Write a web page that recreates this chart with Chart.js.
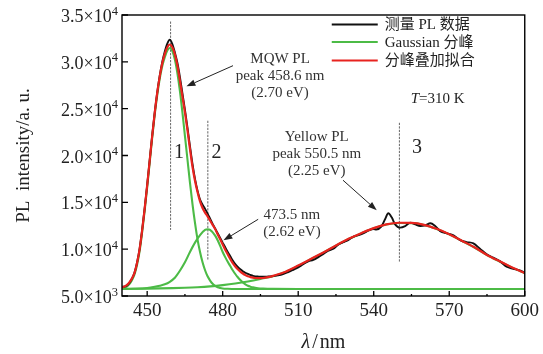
<!DOCTYPE html>
<html>
<head>
<meta charset="utf-8">
<script src="https://cdn.jsdelivr.net/npm/chart.js@4/dist/chart.umd.min.js"></script>
<style>
html,body{margin:0;padding:0;background:#fff;}
#wrap{width:543px;height:354px;position:relative;}
</style>
</head>
<body>
<div id="wrap"><canvas id="c" width="543" height="354"></canvas></div>
<script>
// ---------- data ----------
const fitNm = [440,441,442,443,444,445,446,447,448,449,450,451,452,453,454,455,456,457,458,459,
  460,461,462,463,464,465,466,467,468,469,470,471,472,473,474,475,476,477,478,479,
  480,481,482,483,484,485,486,487,488,489,490,491,492,493,494,495,496,497,498,499,500,
  505,510,515,520,525,530,535,540,545,550,555,560,565,570,575,580,585,590,595,600];
const fitValues = [5930,6020,6180,6480,6900,7500,8550,10000,12000,14300,16800,19450,22100,24550,26700,28450,29850,30850,31550,31850,
  31550,30800,29600,28000,26300,24600,22700,20700,18800,17300,16100,15100,14400,13900,13500,13050,12600,12150,11600,11050,
  10500,9950,9450,8950,8500,8150,7850,7600,7400,7230,7100,7020,6960,6920,6900,6900,6920,6960,7010,7070,7150,
  7600,8250,8950,9650,10400,11100,11700,12250,12650,12820,12800,12600,12170,11600,10900,10200,9380,8700,8050,7450];

const measuredNm = [440,441,442,443,444,445,446,447,448,449,450,451,452,453,454,455,456,457,458,459,
  460,461,462,463,464,465,466,467,468,469,470,471,472,473,474,475,476,477,478,479,
  480,481,482,483,484,485,486,487,488,489,490,491,492,493,494,495,496,497,498,499,500,
  502,504,506,508,510,512,514,516,518,520,522,524,526,528,530,532,534,536,538,540,
  541,543,544.5,545.8,547.2,548.5,550.5,552.5,554.5,556.5,558.5,560.5,562.5,564.4,566.4,569.1,571.7,
  574.3,576.9,579.6,582.2,584.9,587.5,590.1,592.8,595.4,598,600];
const measuredValues = [5980,6000,6120,6420,6880,7520,8600,10050,12050,14350,16850,19500,22150,24600,26750,28550,30000,31100,31950,32350,
  31900,31000,29900,28400,26650,24900,23000,21000,19100,17500,16250,15300,14750,14300,13800,13250,12700,12200,11700,11200,
  10700,10200,9700,9250,8800,8400,8100,7850,7650,7480,7350,7250,7150,7100,7080,7060,7050,7060,7080,7100,7130,
  7200,7330,7550,7800,8060,8400,8700,8850,9150,9500,9850,10050,10500,10750,11000,11350,11500,11700,12000,12150,
  12100,12400,13190,13830,13370,12650,12300,12470,12830,12650,12470,12540,12760,12470,11930,11690,11470,
  10970,10760,10620,10050,9440,9090,8720,8120,7910,7730,7480];

const gauss1Nm = [440,441,442,443,444,445,446,447,448,449,450,451,452,453,454,455,456,457,458,459,
  460,461,462,463,464,465,466,467,468,469,470,471,472,473,474,475,476,477,478,479,480,482,485,500,600];
const gauss1Values = [5800,5880,6020,6300,6720,7320,8350,9800,11800,14100,16600,19250,21900,24350,26450,28200,29550,30500,31200,31480,
  31150,30250,28800,26900,24600,22100,19600,17100,14800,12800,11050,9700,8600,7750,7100,6650,6300,6080,5930,5850,5800,5770,5750,5750,5750];

const gauss2Nm = [440,445,450,453,455,457,459,461,463,465,467,469,471,473,474,475,477,478,479,480,
  481,482,483,484,485,486,487,488,489,490,491,492,494,496,500,510,600];
const gauss2Values = [5750,5770,5850,5980,6100,6250,6520,6950,7700,8600,9700,10700,11500,12050,12120,12050,11450,10950,10350,9700,
  9150,8650,8200,7750,7350,7000,6700,6450,6250,6100,6000,5920,5830,5790,5760,5750,5750];

const gauss3Nm = [440,450,460,465,470,475,480,485,490,495,500,505,510,515,520,525,530,535,540,545,
  550,555,560,565,570,575,580,585,590,595,600];
const gauss3Values = [5760,5790,5840,5880,5940,6030,6160,6330,6550,6820,7120,7560,8200,8920,9630,10380,11080,11680,12230,12630,
  12800,12780,12580,12150,11580,10880,10180,9360,8680,8030,7430];

// peak markers (dotted lines): wavelength and vertical extent (a. u.)
const markerNm = [459.3, 474.1, 550.2];
const markerTop = [34260, 23670, 23450];
const markerBottom = [12100, 8870, 8620];
const markerLabels = ['1', '2', '3'];

const xTickValues = [450, 480, 510, 540, 570, 600];
const xMinorValues = [465, 495, 525, 555, 585];
const yTickValues = [5000, 10000, 15000, 20000, 25000, 30000, 35000];
const yTickMantissa = ['5.0', '1.0', '1.5', '2.0', '2.5', '3.0', '3.5'];
const yTickExponent = ['3', '4', '4', '4', '4', '4', '4'];

const seriesNames = ['测量 PL 数据', 'Gaussian 分峰', '分峰叠加拟合'];

// ---------- helpers ----------
const pts = (xs, ys) => xs.map((v, i) => ({x: v, y: ys[i]}));
const SERIF = "'Liberation Serif','Noto Sans CJK SC',serif";
const BLACK = '#111111', GREEN = '#4cbb46', RED = '#e8231f';

const lineDs = (label, xs, ys, color, order, width) => ({
  label, data: pts(xs, ys), borderColor: color, backgroundColor: color,
  borderWidth: width, pointRadius: 0, fill: false, cubicInterpolationMode: 'monotone', order
});

const datasets = [
  lineDs(seriesNames[2], fitNm, fitValues, RED, 0, 2.2),
  lineDs(seriesNames[0], measuredNm, measuredValues, BLACK, 1, 1.9),
  lineDs(seriesNames[1], gauss1Nm, gauss1Values, GREEN, 2, 2.1),
  lineDs(seriesNames[1], gauss2Nm, gauss2Values, GREEN, 2, 2.1),
  lineDs(seriesNames[1], gauss3Nm, gauss3Values, GREEN, 2, 2.1),
];
markerNm.forEach((m, i) => datasets.push({
  label: 'peak ' + markerLabels[i],
  data: [{x: m, y: markerTop[i]}, {x: m, y: markerBottom[i]}],
  borderColor: '#666', borderWidth: 1, borderDash: [1.5, 2], pointRadius: 0, order: 3, tension: 0
}));

// annotations positioned in data coordinates (nm, a. u.)
const notes = [
  {lines: ['MQW PL', 'peak 458.6 nm', '(2.70 eV)'], at: [502.8, 30250]},
  {lines: ['Yellow PL', 'peak 550.5 nm', '(2.25 eV)'], at: [517.4, 21930]},
  {lines: ['473.5 nm', '(2.62 eV)'], at: [507.5, 13610]},
];
const arrows = [
  {from: [484.1, 29590], to: [465.6, 27380]},
  {from: [527.8, 17360], to: [541.2, 14150]},
  {from: [494.1, 13190], to: [480.3, 10940]},
];
const markerTextPos = [[462.6, 20320], [477.5, 20320], [557.2, 20860]];
const tempPos = [565.4, 26030];

function drawArrow(ctx, x1, y1, x2, y2) {
  const ang = Math.atan2(y2 - y1, x2 - x1);
  const L = 9, W = 3.2;
  const bx = x2 - L * Math.cos(ang), by = y2 - L * Math.sin(ang);
  ctx.beginPath(); ctx.moveTo(x1, y1); ctx.lineTo(bx, by); ctx.stroke();
  ctx.beginPath(); ctx.moveTo(x2, y2);
  ctx.lineTo(bx + W * Math.sin(ang), by - W * Math.cos(ang));
  ctx.lineTo(bx - W * Math.sin(ang), by + W * Math.cos(ang));
  ctx.closePath(); ctx.fill();
}
function drawRuns(ctx, runs, cx, cy, size) {
  let total = 0;
  runs.forEach(r => { ctx.font = (r.italic ? 'italic ' : '') + size + 'px ' + SERIF; r.w = ctx.measureText(r.t).width + (r.gap || 0); total += r.w; });
  let x = cx - total / 2;
  ctx.textAlign = 'left'; ctx.textBaseline = 'middle';
  runs.forEach(r => { ctx.font = (r.italic ? 'italic ' : '') + size + 'px ' + SERIF; ctx.fillText(r.t, x, cy); x += r.w; });
}

const overlay = {
  id: 'overlay',
  afterDraw(chart) {
    const {ctx, chartArea: a, scales: {x, y}} = chart;
    ctx.save();
    // frame
    ctx.strokeStyle = '#000'; ctx.lineWidth = 1.4;
    ctx.strokeRect(a.left, a.top, a.right - a.left, a.bottom - a.top);
    // inward ticks
    ctx.lineWidth = 1.3;
    ctx.beginPath();
    yTickValues.forEach(v => { const py = y.getPixelForValue(v); ctx.moveTo(a.left, py); ctx.lineTo(a.left + 6, py); });
    xTickValues.forEach(v => { const px = x.getPixelForValue(v); ctx.moveTo(px, a.bottom); ctx.lineTo(px, a.bottom - 5); });
    xMinorValues.forEach(v => { const px = x.getPixelForValue(v); ctx.moveTo(px, a.bottom); ctx.lineTo(px, a.bottom - 2); });
    ctx.stroke();

    // y tick labels with superscript exponents
    ctx.fillStyle = '#222'; ctx.textBaseline = 'alphabetic'; ctx.textAlign = 'left';
    yTickValues.forEach((v, i) => {
      const py = y.getPixelForValue(v);
      const main = yTickMantissa[i] + '×10', ex = yTickExponent[i];
      ctx.font = '18px ' + SERIF; const wm = ctx.measureText(main).width;
      ctx.font = '12.5px ' + SERIF; const we = ctx.measureText(ex).width;
      const x0 = a.left - 4 - wm - we;
      ctx.font = '18px ' + SERIF; ctx.fillText(main, x0, py + 7);
      ctx.font = '12.5px ' + SERIF; ctx.fillText(ex, x0 + wm, py - 0.5);
    });

    // legend
    const lx0 = a.right - 193, lx1 = a.right - 147, tx = a.right - 140;
    const ly = [a.top + 9.5, a.top + 27, a.top + 45.5];
    const lc = [BLACK, GREEN, RED];
    ctx.lineWidth = 2;
    ly.forEach((yy, i) => {
      ctx.strokeStyle = lc[i];
      ctx.beginPath(); ctx.moveTo(lx0, yy); ctx.lineTo(lx1, yy); ctx.stroke();
      ctx.fillStyle = '#222'; ctx.font = '15px ' + SERIF; ctx.textAlign = 'left'; ctx.textBaseline = 'middle';
      ctx.fillText(seriesNames[i], tx, yy + 1);
    });

    // notes
    ctx.fillStyle = '#333'; ctx.textAlign = 'center'; ctx.textBaseline = 'middle';
    ctx.font = '15px ' + SERIF;
    notes.forEach(n => {
      const cx = x.getPixelForValue(n.at[0]), cy = y.getPixelForValue(n.at[1]);
      n.lines.forEach((t, i) => ctx.fillText(t, cx, cy + i * 16.7));
    });
    // arrows
    ctx.strokeStyle = '#222'; ctx.fillStyle = '#222'; ctx.lineWidth = 1;
    arrows.forEach(r => drawArrow(ctx, x.getPixelForValue(r.from[0]), y.getPixelForValue(r.from[1]),
      x.getPixelForValue(r.to[0]), y.getPixelForValue(r.to[1])));
    // peak numbers
    ctx.fillStyle = '#222'; ctx.font = '20px ' + SERIF; ctx.textAlign = 'center'; ctx.textBaseline = 'middle';
    markerTextPos.forEach((p, i) => ctx.fillText(markerLabels[i], x.getPixelForValue(p[0]), y.getPixelForValue(p[1])));
    // temperature
    ctx.fillStyle = '#222';
    drawRuns(ctx, [{t: 'T', italic: true}, {t: '=310 K'}], x.getPixelForValue(tempPos[0]), y.getPixelForValue(tempPos[1]), 15);
    // x-axis title
    drawRuns(ctx, [{t: 'λ', italic: true, gap: 2}, {t: '/', gap: 2}, {t: 'nm'}], (a.left + a.right) / 2, a.bottom + 47, 20);
    ctx.restore();
  }
};

new Chart(document.getElementById('c'), {
  type: 'line',
  data: {datasets},
  plugins: [overlay],
  options: {
    responsive: false, animation: false, devicePixelRatio: 1,
    layout: {padding: {top: 15, right: 18, left: 0, bottom: 0}},
    plugins: {legend: {display: false}, tooltip: {enabled: false}},
    elements: {line: {borderCapStyle: 'round', borderJoinStyle: 'round'}},
    scales: {
      x: {
        type: 'linear', min: 440, max: 600,
        grid: {display: false, drawTicks: false}, border: {display: false},
        afterBuildTicks: ax => { ax.ticks = xTickValues.map(v => ({value: v})); },
        afterFit: ax => { ax.height = 58; },
        ticks: {autoSkip: false, maxRotation: 0, padding: 4, color: '#222', font: {family: SERIF, size: 19}}
      },
      y: {
        type: 'linear', min: 5000, max: 35000,
        grid: {display: false, drawTicks: false}, border: {display: false},
        afterBuildTicks: ax => { ax.ticks = yTickValues.map(v => ({value: v})); },
        afterFit: ax => { ax.width = 122; },
        ticks: {display: false},
        title: {display: true, text: 'PL  intensity/a. u.', color: '#222', font: {family: SERIF, size: 19}, padding: {top: 13, bottom: 0}}
      }
    }
  }
});
</script>
</body>
</html>
